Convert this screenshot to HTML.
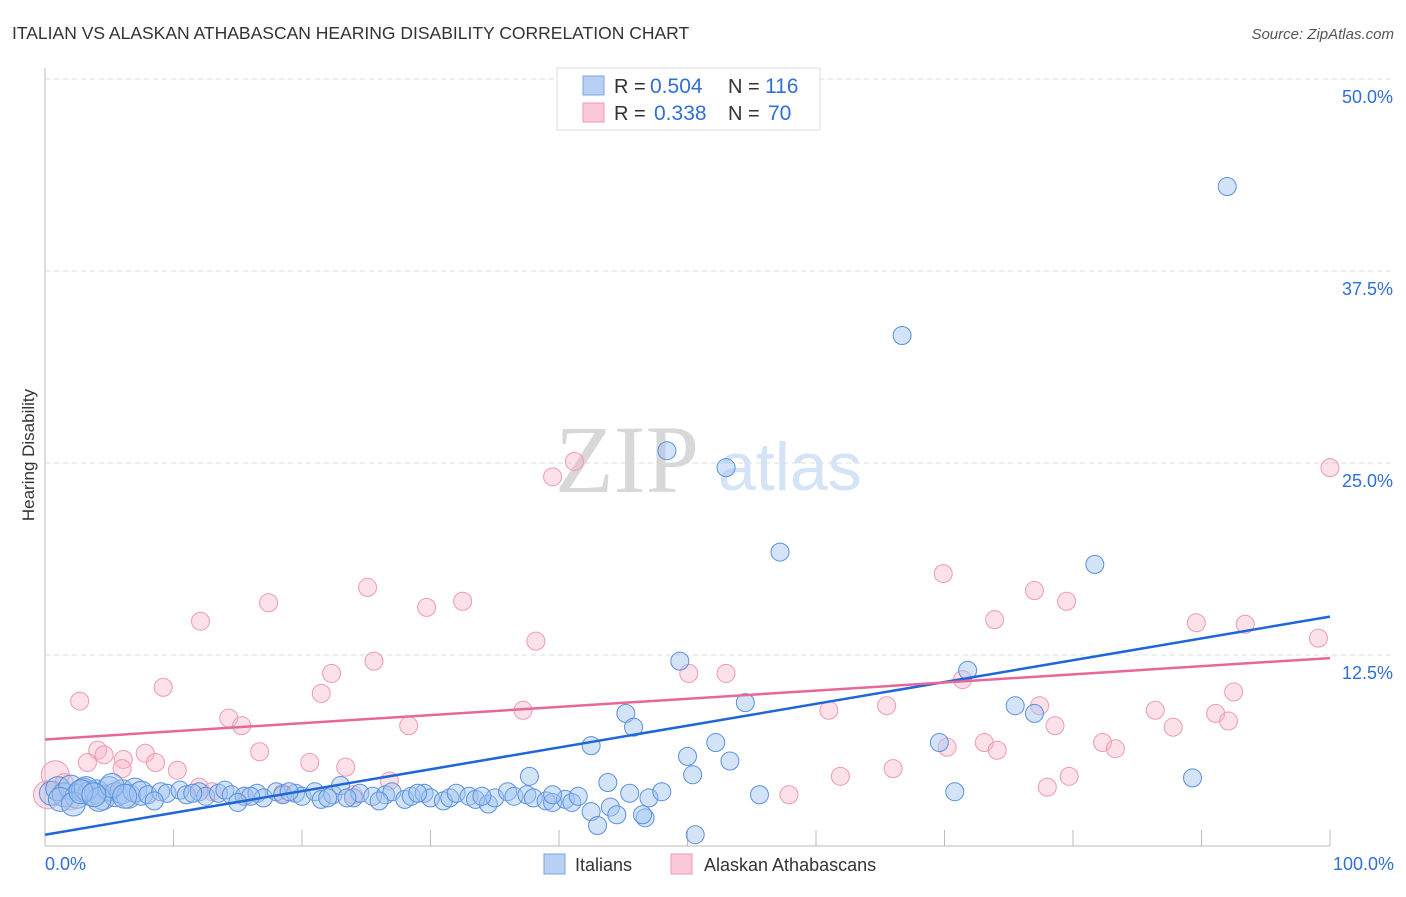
<!DOCTYPE html>
<html><head><meta charset="utf-8"><style>
body{margin:0;background:#fff;font-family:"Liberation Sans",sans-serif;}
svg text{font-family:"Liberation Sans",sans-serif;}
</style></head><body>
<svg id="chart" width="1406" height="892" xmlns="http://www.w3.org/2000/svg">
<text x="12" y="39" font-size="17.5" fill="#333">ITALIAN VS ALASKAN ATHABASCAN HEARING DISABILITY CORRELATION CHART</text>
<text x="1394" y="39" font-size="15" fill="#555" font-style="italic" text-anchor="end">Source: ZipAtlas.com</text>
<text x="0" y="0" transform="translate(34,455) rotate(-90)" font-size="17" fill="#333" text-anchor="middle">Hearing Disability</text>
<g id="grid"></g>
<text x="555" y="492" font-size="96" fill="#d8d8d8" font-family="Liberation Serif" style="font-family:'Liberation Serif',serif">ZIP</text>
<text x="718" y="490" font-size="68" fill="#d4e3f5">atlas</text>
<g id="pts"></g>
<g id="lines"></g>
<g>
<rect x="557" y="68" width="263" height="62" fill="#fff" stroke="#ddd"/>
<rect x="583" y="76" width="21" height="19" fill="#b8d0f3" stroke="#7aa5e3"/>
<rect x="583" y="103" width="21" height="19" fill="#fbc8d8" stroke="#ef9ab5"/>
<text x="614" y="93" font-size="20" fill="#333">R =</text>
<text x="650" y="93" font-size="21" fill="#2f6fd6">0.504</text>
<text x="728" y="93" font-size="20" fill="#333">N =</text>
<text x="765" y="93" font-size="21" fill="#2f6fd6">116</text>
<text x="614" y="120" font-size="20" fill="#333">R =</text>
<text x="654" y="120" font-size="21" fill="#2f6fd6">0.338</text>
<text x="728" y="120" font-size="20" fill="#333">N =</text>
<text x="768" y="120" font-size="21" fill="#2f6fd6">70</text>
</g>
<g>
<rect x="544" y="854" width="21" height="20" fill="#b8d0f3" stroke="#7aa5e3"/>
<text x="575" y="871" font-size="18" fill="#333">Italians</text>
<rect x="671" y="854" width="21" height="20" fill="#fbc8d8" stroke="#ef9ab5"/>
<text x="704" y="871" font-size="18" fill="#333">Alaskan Athabascans</text>
</g>
</svg>
<script>
const yTicks=[12.5,25,37.5,50];
const yTickLabels=["12.5%","25.0%","37.5%","50.0%"];
const xTickLabels=["0.0%","100.0%"];
const blueX=[92.0,66.7,48.4,53.0,57.2,81.7,49.4,71.8,45.2,45.8,54.5,75.5,77.0,42.5,50.0,52.2,53.3,69.6,50.4,37.7,89.3,55.6,70.8,50.6,46.7,43.8,
0.5,1.0,1.5,2.0,2.5,3.0,3.5,4.0,4.5,5.0,5.5,6.0,6.5,7.0,7.5,8.0,9.0,9.5,10.5,11.0,12.0,12.5,13.5,14.0,14.5,15.5,16.5,17.0,18.0,18.5,19.5,20.0,21.0,21.5,22.4,23.0,24.0,24.5,25.5,26.5,27.0,28.0,28.5,29.5,30.0,31.0,31.5,32.0,33.0,33.5,34.5,35.0,36.0,36.5,37.5,38.0,39.0,39.5,40.5,41.0,41.5,42.5,43.0,44.0,44.5,46.5,47.0,48.0,1.2,2.2,3.2,4.2,5.2,6.2,2.8,3.8,8.5,11.5,16.0,22.0,26.0,29.0,34.0,39.5,45.5,15.0,19.0,23.5];
const blueY=[43.0,33.3,25.8,24.7,19.2,18.4,12.1,11.5,8.7,7.8,9.4,9.2,8.7,6.6,5.9,6.8,5.6,6.8,4.7,4.6,4.5,3.4,3.6,0.8,1.9,4.2,
3.5,3.8,3.4,3.9,3.3,3.7,3.5,3.6,3.2,3.8,3.4,3.6,3.3,3.7,3.5,3.4,3.6,3.5,3.7,3.4,3.6,3.3,3.5,3.7,3.4,3.3,3.5,3.2,3.6,3.4,3.5,3.3,3.6,3.1,3.4,4.0,3.2,3.5,3.3,3.4,3.6,3.1,3.3,3.5,3.2,3.0,3.2,3.5,3.3,3.1,2.8,3.2,3.6,3.3,3.4,3.2,3.0,2.9,3.1,2.9,3.3,2.3,1.4,2.6,2.1,2.1,3.2,3.6,3.1,2.8,3.8,3.1,4.0,3.3,3.6,3.4,3.0,3.5,3.3,3.2,3.0,3.5,3.3,3.4,3.5,2.9,3.6,3.2,3.7,3.4];
const pinkX=[0.8,2.7,4.1,4.6,3.3,6.1,6.0,7.8,8.6,9.2,12.1,10.3,14.3,15.3,16.7,17.4,21.5,22.3,20.6,23.4,25.1,25.6,28.3,26.8,29.7,32.5,37.2,38.2,39.5,41.2,50.1,53.0,57.9,61.0,61.9,65.5,66.0,69.9,70.2,71.4,73.1,74.1,73.9,77.0,77.4,78.0,78.6,79.5,79.7,82.3,83.3,86.4,87.8,89.6,91.1,92.1,92.5,93.4,99.1,100,0.2,1.5,2.0,3.0,5.0,12.0,13.0,15.5,18.5,24.0];
const pinkY=[4.7,9.5,6.3,6.0,5.5,5.7,5.1,6.1,5.5,10.4,14.7,5.0,8.4,7.9,6.2,15.9,10.0,11.3,5.5,5.2,16.9,12.1,7.9,4.3,15.6,16.0,8.9,13.4,24.1,25.1,11.3,11.3,3.4,8.9,4.6,9.2,5.1,17.8,6.5,10.9,6.8,6.3,14.8,16.7,9.2,3.9,7.9,16.0,4.6,6.8,6.4,8.9,7.8,14.6,8.7,8.2,10.1,14.5,13.6,24.7,3.4,4.2,3.0,3.8,3.5,3.9,3.6,3.3,3.5,3.4];
const blueTrend=[0.8,15.0];
const pinkTrend=[7.0,12.3];
const NS="http://www.w3.org/2000/svg";
const X=v=>45+v*12.85, Y=v=>847-v*15.36;
function mk(t,a,p){const e=document.createElementNS(NS,t);for(const k in a)e.setAttribute(k,a[k]);p.appendChild(e);return e;}
const g=document.getElementById('grid');
const ax=mk('line',{x1:45,y1:68,x2:45,y2:846,stroke:'#bbb'},g);


const bx=mk('line',{x1:45,y1:846,x2:1330,y2:846,stroke:'#bbb'},g);


for(let i=1;i<=10;i++){const tk=mk('line',{x1:45+i*128.5,y1:830,x2:45+i*128.5,y2:846,stroke:'#bbb'},g);

}
yTicks.forEach((v,i)=>{const l=mk('line',{x1:45,y1:Y(v),x2:1394,y2:Y(v),stroke:'#ddd','stroke-dasharray':'5,4'},g);


const t=mk('text',{x:1393,y:Y(v)+24,'font-size':18,fill:'#2f6fd6','text-anchor':'end'},g);t.textContent=yTickLabels[i];

});
[[0,'start',45],[1,'end',1394]].forEach(([i,a,x])=>{const t=mk('text',{x:x,y:870,'font-size':18,fill:'#2f6fd6','text-anchor':a},g);t.textContent=xTickLabels[i];

});
const p=document.getElementById('pts');
pinkX.forEach((x,i)=>{const c=mk('circle',{cx:X(x),cy:Y(pinkY[i]),r:(x<1?14:9),fill:'rgba(248,180,200,0.4)',stroke:'#ef9ab5','stroke-width':1},p);

});
blueX.forEach((x,i)=>{const c=mk('circle',{cx:X(x),cy:Y(blueY[i]),r:(x<8&&i>25?12:9),fill:'rgba(160,195,240,0.45)',stroke:'#5a90dd','stroke-width':1},p);

});
const L=document.getElementById('lines');
const b=mk('line',{x1:X(0),y1:Y(blueTrend[0]),x2:X(100),y2:Y(blueTrend[1]),stroke:'#1f66d6','stroke-width':2.5},L);


const pk=mk('line',{x1:X(0),y1:Y(pinkTrend[0]),x2:X(100),y2:Y(pinkTrend[1]),stroke:'#e8679a','stroke-width':2.5},L);


</script>
</body></html>
